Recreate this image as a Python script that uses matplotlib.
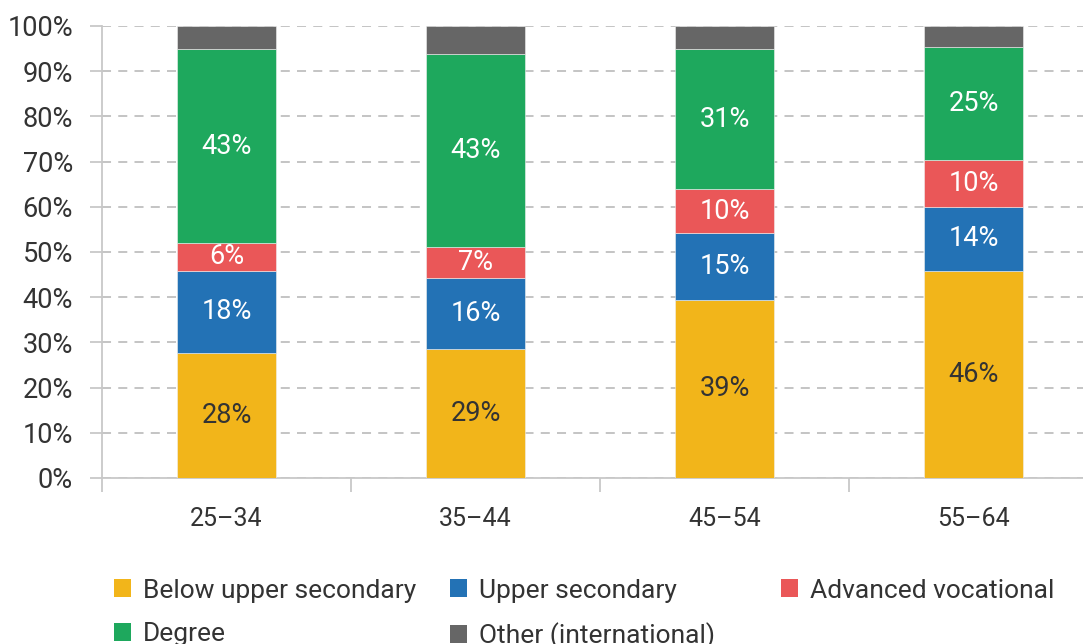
import numpy as np
import matplotlib.pyplot as plt
from matplotlib.patches import Patch

plt.rcParams['font.family'] = ['Roboto', 'DejaVu Sans']

ages = ["25–34", "35–44", "45–54", "55–64"]
below_upper = [27.7, 28.5, 39.4, 45.8]
upper_sec = [18.1, 15.7, 14.8, 14.2]
adv_voc = [6.2, 6.9, 9.7, 10.4]
degree = [42.9, 42.7, 31.0, 25.0]
other = [5.1, 6.2, 5.1, 4.6]

below_lbl = ["28%", "29%", "39%", "46%"]
upper_lbl = ["18%", "16%", "15%", "14%"]
adv_lbl = ["6%", "7%", "10%", "10%"]
degree_lbl = ["43%", "43%", "31%", "25%"]

series = [
    ("Below upper secondary", below_upper, below_lbl, "#F2B51A", "#333333"),
    ("Upper secondary", upper_sec, upper_lbl, "#2372B5", "white"),
    ("Advanced vocational", adv_voc, adv_lbl, "#EA5758", "white"),
    ("Degree", degree, degree_lbl, "#1EA85D", "white"),
    ("Other (international)", other, None, "#666666", "white"),
]

fig = plt.figure(figsize=(10.83, 6.44), dpi=100)
ax = fig.add_axes([102 / 1083, (644 - 478) / 644, 996 / 1083, 452 / 644])

x = np.arange(len(ages))
bottom = np.zeros(len(ages))
for name, vals, lbls, col, tcol in series:
    vals = np.array(vals)
    ax.bar(x, vals, 0.4, bottom=bottom, color=col, edgecolor="#f0f0f0",
           linewidth=0.4, zorder=3)
    if lbls:
        for xi, b, v, t in zip(x, bottom, vals, lbls):
            ax.text(xi, b + v / 2, t, ha="center", va="center",
                    color=tcol, fontsize=19.5, zorder=4)
    bottom += vals

ax.set_xlim(-0.5, 3.5)
ax.set_ylim(0, 100)
ax.set_yticks(np.arange(0, 101, 10))
ax.set_yticklabels([f"{v}%" for v in range(0, 101, 10)])
ax.yaxis.grid(True, linestyle=(0, (5, 4)), color="#bfbfbf", linewidth=1.3, zorder=0)

ax.set_xticks(x)
ax.set_xticklabels(ages)
ax.set_xticks(np.arange(-0.5, 4, 1), minor=True)
ax.tick_params(axis="x", which="major", length=0, pad=21, labelsize=18, labelcolor="#333333")
ax.tick_params(axis="x", which="minor", length=10, color="#c8c8c8", width=1.3)
ax.tick_params(axis="y", length=9, color="#c8c8c8", width=1.3, pad=12,
               labelsize=19.5, labelcolor="#333333")

for s in ["top", "right"]:
    ax.spines[s].set_visible(False)
for s in ["left", "bottom"]:
    ax.spines[s].set_color("#c8c8c8")
    ax.spines[s].set_linewidth(1.3)

# legend in fixed-width columns: one legend per column
columns = [[0, 3], [1, 4], [2]]
col_x = [103, 439, 770]
for idx, cx in zip(columns, col_x):
    handles = [Patch(facecolor=series[i][3], label=series[i][0]) for i in idx]
    fig.legend(handles=handles, loc="upper left",
               bbox_to_anchor=(cx / 1083, 1 - 568 / 644),
               ncol=1, frameon=False, fontsize=19, handlelength=0.65,
               handleheight=0.65, handletextpad=0.45, labelspacing=0.75,
               labelcolor="#333333", borderaxespad=0)

fig.savefig("out.png", dpi=100)
